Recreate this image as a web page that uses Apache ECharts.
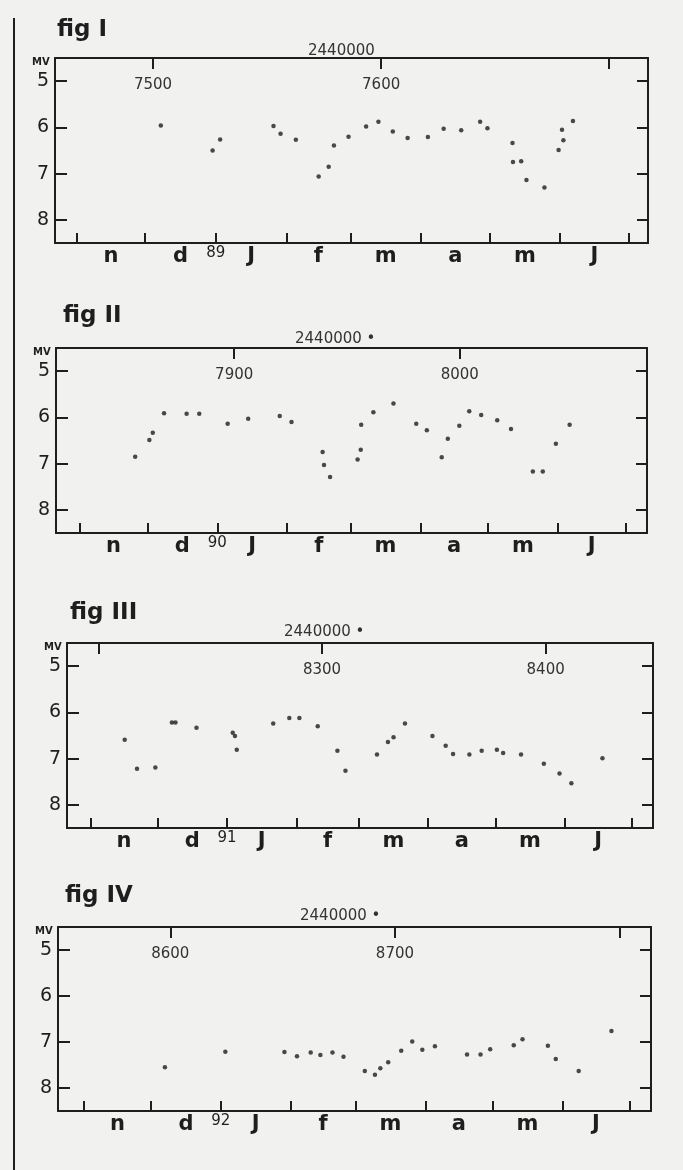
<!DOCTYPE html>
<html>
<head>
<meta charset="utf-8">
<script src="https://cdn.jsdelivr.net/npm/echarts@6/dist/echarts.min.js"></script>
<style>
  html, body { margin: 0; padding: 0; background: #f1f1ef; }
  #chart { width: 683px; height: 1170px; }
</style>
</head>
<body>
<div id="chart"></div>
<script>
// julian day - 2440000 and visual magnitude, one pair of lists per figure
const jd1 = [7503.4, 7526.1, 7529.4, 7552.8, 7555.9, 7562.6, 7572.6, 7577.0, 7579.3, 7585.7, 7593.4, 7598.8, 7605.1, 7611.6,
  7620.5, 7627.4, 7635.1, 7643.4, 7646.6, 7657.6, 7657.8, 7661.4, 7663.7, 7671.6, 7677.8, 7679.3, 7679.9, 7684.1];
const mag1 = [5.96, 6.50, 6.26, 5.97, 6.14, 6.27, 7.06, 6.85, 6.39, 6.20, 5.98, 5.88, 6.09, 6.23,
  6.21, 6.03, 6.06, 5.88, 6.02, 6.34, 6.75, 6.73, 7.14, 7.30, 6.49, 6.05, 6.28, 5.86];

const jd2 = [7856.1, 7862.4, 7863.9, 7868.9, 7878.9, 7884.5, 7897.1, 7906.2, 7920.2, 7925.4, 7939.2, 7939.8, 7942.5, 7954.7,
  7956.1, 7956.3, 7961.7, 7970.6, 7980.7, 7985.4, 7992.0, 7994.7, 7999.8, 8004.2, 8009.5, 8016.6, 8022.7, 8032.4, 8036.8,
  8042.6, 8048.7];
const mag2 = [6.85, 6.49, 6.33, 5.91, 5.92, 5.92, 6.14, 6.03, 5.97, 6.10, 6.75, 7.03, 7.29, 6.91,
  6.70, 6.16, 5.89, 5.70, 6.14, 6.28, 6.86, 6.46, 6.18, 5.87, 5.95, 6.06, 6.25, 7.17, 7.17,
  6.57, 6.16];

const jd3 = [8211.8, 8217.3, 8225.5, 8232.9, 8234.5, 8243.9, 8260.1, 8261.1, 8261.9, 8278.2, 8285.4, 8289.9, 8298.1, 8306.9,
  8310.5, 8324.6, 8329.5, 8332.0, 8337.1, 8349.4, 8355.3, 8358.6, 8365.9, 8371.4, 8378.2, 8381.0, 8389.0, 8399.2, 8406.2,
  8411.5, 8425.4];
const mag3 = [6.59, 7.22, 7.19, 6.22, 6.22, 6.33, 6.44, 6.51, 6.81, 6.24, 6.12, 6.12, 6.30, 6.83,
  7.26, 6.91, 6.64, 6.54, 6.24, 6.51, 6.72, 6.90, 6.91, 6.83, 6.81, 6.88, 6.91, 7.11, 7.32,
  7.53, 6.99];

const jd4 = [8597.6, 8624.5, 8650.8, 8656.4, 8662.5, 8666.8, 8672.2, 8677.1, 8686.6, 8691.1, 8693.5, 8697.0, 8702.8,
  8707.7, 8712.2, 8717.8, 8732.1, 8738.1, 8742.4, 8752.9, 8756.8, 8768.1, 8771.6, 8781.8, 8796.4];
const mag4 = [7.55, 7.21, 7.22, 7.31, 7.23, 7.28, 7.23, 7.32, 7.63, 7.71, 7.57, 7.44, 7.19,
  6.99, 7.17, 7.09, 7.27, 7.27, 7.16, 7.07, 6.94, 7.08, 7.37, 7.63, 6.76];

// first day of each month, november to july
const monthStarts1 = [7466.5, 7496.5, 7527.5, 7558.5, 7586.5, 7617.5, 7647.5, 7678.5, 7708.5];
const monthStarts2 = [7831.5, 7861.5, 7892.5, 7923.5, 7951.5, 7982.5, 8012.5, 8043.5, 8073.5];
const monthStarts3 = [8196.5, 8226.5, 8257.5, 8288.5, 8316.5, 8347.5, 8377.5, 8408.5, 8438.5];
const monthStarts4 = [8561.5, 8591.5, 8622.5, 8653.5, 8682.5, 8713.5, 8743.5, 8774.5, 8804.5];
const monthNames = ['n', 'd', 'J', 'f', 'm', 'a', 'm', 'J'];
const yearNames = ['89', '90', '91', '92'];

// top axis ticks and the ones that carry a number
const topTicks1 = [7500, 7600, 7700];
const topTicks2 = [7900, 8000];
const topTicks3 = [8200, 8300, 8400];
const topTicks4 = [8600, 8700, 8800];
const topLabels1 = [7500, 7600];
const topLabels2 = [7900, 8000];
const topLabels3 = [8300, 8400];
const topLabels4 = [8600, 8700];

const magTicks = [5, 6, 7, 8];
const figNames = ['fig I', 'fig II', 'fig III', 'fig IV'];
const epochNames = ['2440000', '2440000 \u2022', '2440000 \u2022', '2440000 \u2022'];

const panels = [
  { jd: jd1, mag: mag1, months: monthStarts1, ticks: topTicks1, labels: topLabels1, xmin: 7457, xmax: 7717,
    left: 55, top: 58, width: 593, height: 185, figPos: [52, 14], epochPos: [303, 39] },
  { jd: jd2, mag: mag2, months: monthStarts2, ticks: topTicks2, labels: topLabels2, xmin: 7821, xmax: 8083,
    left: 56, top: 348, width: 591, height: 185, figPos: [58, 300], epochPos: [290, 327] },
  { jd: jd3, mag: mag3, months: monthStarts3, ticks: topTicks3, labels: topLabels3, xmin: 8186, xmax: 8448,
    left: 67, top: 643, width: 586, height: 185, figPos: [65, 597], epochPos: [279, 620] },
  { jd: jd4, mag: mag4, months: monthStarts4, ticks: topTicks4, labels: topLabels4, xmin: 8550, xmax: 8814,
    left: 58, top: 927, width: 593, height: 184, figPos: [60, 880], epochPos: [295, 904] },
];

const ink = '#1e1e1e';
const font = 'DejaVu Sans';
const line = { show: true, lineStyle: { color: ink, width: 2 } };

const grid = [], xAxis = [], yAxis = [], series = [], title = [];

panels.forEach((p, i) => {
  grid.push({ left: p.left, top: p.top, width: p.width, height: p.height });

  // label sits in the middle of each month
  const mids = [];
  for (let k = 0; k < p.months.length - 1; k++) mids.push((p.months[k] + p.months[k + 1]) / 2);
  const monthOf = (v) => {
    const k = mids.findIndex((m) => Math.abs(m - v) < 0.01);
    return k < 0 ? '' : monthNames[k];
  };

  // bottom: months
  xAxis.push({
    gridIndex: i, type: 'value', position: 'bottom', min: p.xmin, max: p.xmax,
    axisLine: line,
    axisTick: { show: true, inside: true, length: 10, customValues: p.months, lineStyle: { color: ink, width: 2 } },
    axisLabel: { customValues: mids, formatter: monthOf, margin: 3, color: ink, fontSize: 21, fontWeight: 'bold', fontFamily: font },
    splitLine: { show: false },
  });
  // top: julian days
  xAxis.push({
    gridIndex: i, type: 'value', position: 'top', min: p.xmin, max: p.xmax,
    axisLine: line,
    axisTick: { show: true, inside: true, length: 11, customValues: p.ticks, lineStyle: { color: ink, width: 2 } },
    axisLabel: { inside: true, customValues: p.labels, formatter: (v) => String(v), margin: 20,
      color: '#333', fontSize: 15, fontFamily: font },
    splitLine: { show: false },
  });
  // year at the january tick
  xAxis.push({
    gridIndex: i, type: 'value', position: 'bottom', offset: 0, min: p.xmin, max: p.xmax,
    axisLine: { show: false }, axisTick: { show: false },
    axisLabel: { customValues: [p.months[2]], formatter: () => yearNames[i], margin: 3, color: ink, fontSize: 15, fontFamily: font },
    splitLine: { show: false },
  });

  yAxis.push({
    gridIndex: i, type: 'value', inverse: true, min: 4.5, max: 8.5, position: 'left',
    axisLine: line,
    axisTick: { show: true, inside: true, length: 12, customValues: magTicks, lineStyle: { color: ink, width: 2 } },
    axisLabel: { customValues: magTicks, margin: 6, color: ink, fontSize: 19, fontFamily: font, padding: [6, 0, 0, 0] },
    splitLine: { show: false },
  });
  yAxis.push({
    gridIndex: i, type: 'value', inverse: true, min: 4.5, max: 8.5, position: 'right',
    axisLine: line,
    axisTick: { show: true, inside: true, length: 11, customValues: magTicks, lineStyle: { color: ink, width: 2 } },
    axisLabel: { show: false },
    splitLine: { show: false },
  });

  series.push({
    type: 'scatter', xAxisIndex: i * 3, yAxisIndex: i * 2,
    symbolSize: 4.5, itemStyle: { color: ink },
    data: p.jd.map((d, k) => [d, p.mag[k]]),
  });

  title.push({ text: figNames[i], left: p.figPos[0], top: p.figPos[1],
    textStyle: { fontSize: 23, fontWeight: 'bold', color: ink, fontFamily: font } });
  title.push({ text: epochNames[i], left: p.epochPos[0], top: p.epochPos[1],
    textStyle: { fontSize: 15, fontWeight: 'normal', color: '#333', fontFamily: font } });
  title.push({ text: 'MV', left: p.left - 23, top: p.top - 1, padding: 0,
    textStyle: { fontSize: 10, fontWeight: 'bold', color: ink, fontFamily: font } });
});

const chart = echarts.init(document.getElementById('chart'));
chart.setOption({
  backgroundColor: '#f1f1ef',
  animation: false,
  title: title,
  grid: grid,
  xAxis: xAxis,
  yAxis: yAxis,
  series: series,
  graphic: [{ type: 'line', shape: { x1: 14, y1: 18, x2: 14, y2: 1170 }, style: { stroke: ink, lineWidth: 2 } }],
});
</script>
</body>
</html>
